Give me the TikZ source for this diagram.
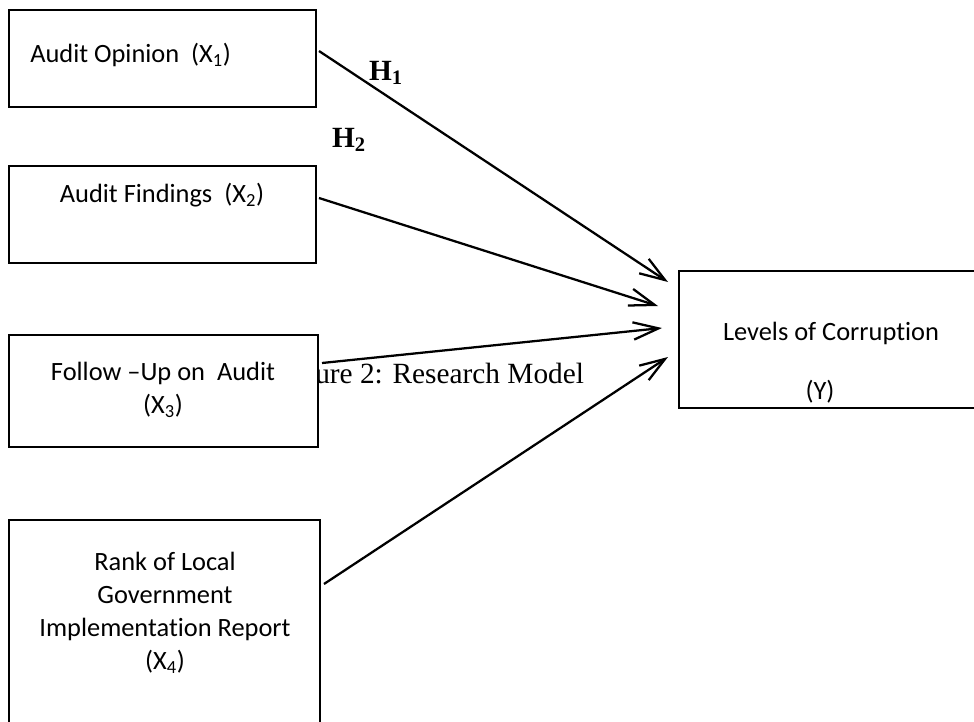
\documentclass[tikz,border=0pt]{standalone}
\usepackage{fontspec}
\setmainfont{Carlito}[Ligatures=NoCommon, RawFeature={-liga;-clig;-calt;-dlig}]
\newfontfamily\timesfont{Liberation Serif}
\usetikzlibrary{arrows.meta}

\tikzset{
  box/.style={draw=black, line width=1.5pt, fill=white, inner sep=0pt, outer sep=0pt},
  lbl/.style={inner sep=0pt, font=\fontsize{19.8}{24.75}\selectfont, align=center},
  hyp/.style={inner sep=0pt, font=\timesfont\bfseries\fontsize{22}{26}\selectfont},
  arr/.style={line width=1.7pt, -{Straight Barb[length=19pt,width=13pt,line width=1.7pt]}}
}

\begin{document}
\begin{tikzpicture}[x=0.75pt, y=-0.75pt]
  \useasboundingbox (0,0) rectangle (974,721);
  \clip (0,0) rectangle (974,721);

  % caption text that runs behind the third box
  \node[inner sep=0pt, anchor=base west, font=\timesfont\fontsize{22}{26}\selectfont]
    (cap) at (315,383) {ure 2: Research Model};

  % independent variable boxes
  \node[box, minimum width=307*0.75pt, minimum height=97*0.75pt] (b1) at (162.5,58.5) {};
  \node[box, minimum width=307*0.75pt, minimum height=97*0.75pt] (b2) at (162.5,214.5) {};
  \node[box, minimum width=309*0.75pt, minimum height=112*0.75pt] (b3) at (163.5,391) {};
  \node[box, minimum width=311*0.75pt, minimum height=220*0.75pt] (b4) at (164.5,630) {};

  % dependent variable box
  \node[box, minimum width=330*0.75pt, minimum height=137*0.75pt] (by) at (844,339.5) {};

  % box texts ("t\kern0pt i" keeps t and i as separate letters)
  \node[lbl, anchor=west] (t1) at (30,55) {Audit Opinion~~(X\textsubscript{1})};
  \node[lbl] (t2) at (162,195) {Audit Findings~~(X\textsubscript{2})};
  \node[lbl] (t3) at (163,389.5) {Follow –Up on~~Audit\\(X\textsubscript{3})};
  \node[lbl] (t4) at (165,612.5) {Rank of Local\\Government\\Implementat\kern0pt ion Report\\(X\textsubscript{4})};
  \node[lbl] (ty1) at (831,333) {Levels of Corrupt\kern0pt ion};
  \node[lbl] (ty2) at (820,392) {(Y)};

  % hypothesis labels
  \node[hyp] (h1) at (386,73) {H\textsubscript{1}};
  \node[hyp] (h2) at (349,140) {H\textsubscript{2}};

  % paths into the dependent variable
  \draw[arr] ([shift={(3,-7.5)}]b1.east) -- ([shift={(-11,-57.5)}]by.west);
  \draw[arr] ([shift={(3,-16.5)}]b2.east) -- ([shift={(-21,-33.5)}]by.west);
  \draw[arr] ([shift={(4,-28)}]b3.east) -- ([shift={(-17,-11.5)}]by.west);
  \draw[arr] ([shift={(4,-46)}]b4.east) -- ([shift={(-11,17.5)}]by.west);
\end{tikzpicture}
\end{document}
